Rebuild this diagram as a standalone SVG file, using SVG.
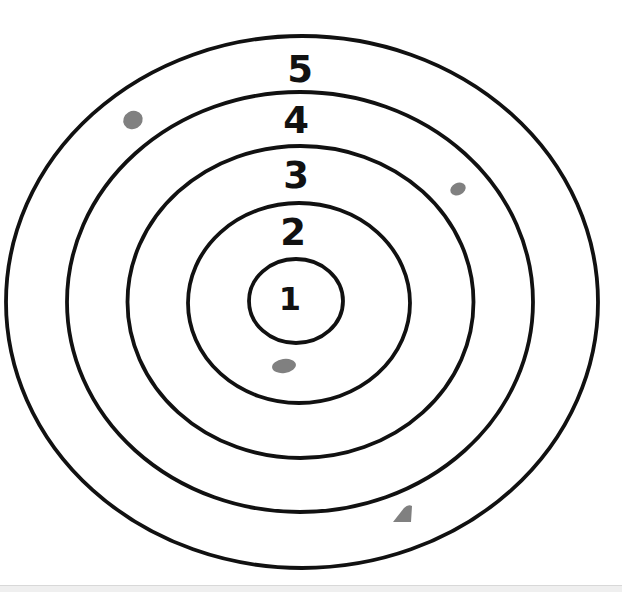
<svg xmlns="http://www.w3.org/2000/svg" width="622" height="592" viewBox="0 0 622 592">
<style>
.ring{fill:none;stroke:#111;stroke-width:3.8}
.lbl{font-family:"DejaVu Sans",sans-serif;font-size:37px;font-weight:bold;fill:#111;text-anchor:middle}
.hole{fill:#808080}
</style>
<rect x="0" y="0" width="622" height="592" fill="#ffffff"/>
<rect x="0" y="585" width="622" height="7" fill="#efefef"/>
<line x1="0" y1="585.5" x2="622" y2="585.5" stroke="#d8d8d8" stroke-width="1"/>
<g id="rings">
<ellipse id="ring5" class="ring" cx="302" cy="302" rx="296" ry="266"/>
<ellipse id="ring4" class="ring" cx="300" cy="302" rx="233" ry="210"/>
<ellipse id="ring3" class="ring" cx="300.5" cy="302" rx="173" ry="156"/>
<ellipse id="ring2" class="ring" cx="299" cy="303" rx="111" ry="100"/>
<ellipse id="ring1" class="ring" cx="296" cy="301" rx="47" ry="42"/>
</g>
<g id="labels">
<text id="l5" class="lbl" x="300" y="82">5</text>
<text id="l4" class="lbl" x="296" y="133">4</text>
<text id="l3" class="lbl" x="296" y="188">3</text>
<text id="l2" class="lbl" x="293" y="245">2</text>
<text id="l1" class="lbl" x="290" y="310" style="font-size:32px">1</text>
</g>
<g id="holes">
<ellipse class="hole" cx="133" cy="120" rx="10" ry="9" transform="rotate(-30 133 120)"/>
<ellipse class="hole" cx="284" cy="366" rx="12" ry="7" transform="rotate(-8 284 366)"/>
<path class="hole" d="M393,522 L404,508 Q408,504 412,506 L411,522 Z"/>
<ellipse class="hole" cx="458" cy="189" rx="8" ry="6" transform="rotate(-25 458 189)"/>
</g>
</svg>
